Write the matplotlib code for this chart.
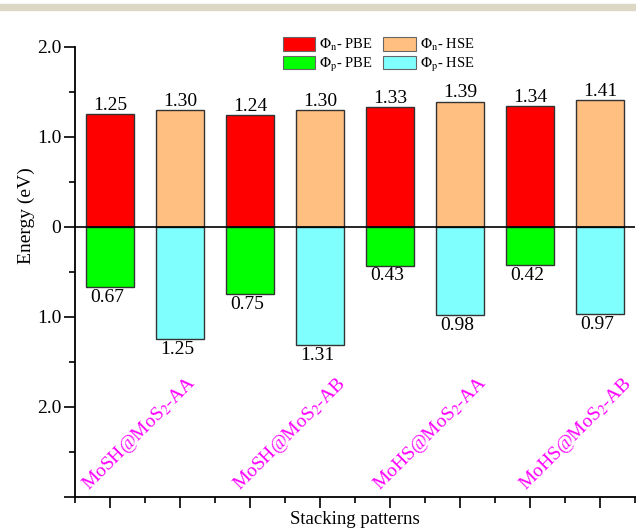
import numpy as np
import matplotlib
matplotlib.use("Agg")
import matplotlib.pyplot as plt
from matplotlib.patches import Patch, Rectangle
from matplotlib.ticker import MultipleLocator, FuncFormatter

plt.rcParams['font.family'] = ['Liberation Serif', 'DejaVu Serif']
plt.rcParams['mathtext.fontset'] = 'stix'

# ---- data ----
categories = ['MoSH@MoS$_2$-AA', 'MoSH@MoS$_2$-AB', 'MoHS@MoS$_2$-AA', 'MoHS@MoS$_2$-AB']
phi_n_pbe = [1.25, 1.24, 1.33, 1.34]
phi_n_hse = [1.30, 1.30, 1.39, 1.41]
phi_p_pbe = [0.67, 0.75, 0.43, 0.42]
phi_p_hse = [1.25, 1.31, 0.98, 0.97]
legend_labels = [r'$\Phi_{\rm n}$- PBE', r'$\Phi_{\rm p}$- PBE', r'$\Phi_{\rm n}$- HSE', r'$\Phi_{\rm p}$- HSE']

# ---- styles ----
c_n_pbe, c_p_pbe = '#ff0000', '#00ff00'
c_n_hse, c_p_hse = '#ffbf80', '#80ffff'
edge = '#333333'

fig = plt.figure(figsize=(6.36, 5.31), dpi=100)
fig.patches.append(Rectangle((0, 1 - 10/531), 1, 6/531, transform=fig.transFigure,
                             color='#ddd7c6', zorder=0))
ax = fig.add_axes([75/636, 34/531, 560/636, 450/531])

n = len(categories)
x_pbe = np.arange(n) * 2 + 1
x_hse = x_pbe + 1
w = 0.69

ax.bar(x_pbe, phi_n_pbe, width=w, color=c_n_pbe, edgecolor=edge, lw=1, zorder=2)
ax.bar(x_pbe, -np.array(phi_p_pbe), width=w, color=c_p_pbe, edgecolor=edge, lw=1, zorder=2)
ax.bar(x_hse, phi_n_hse, width=w, color=c_n_hse, edgecolor=edge, lw=1, zorder=2)
ax.bar(x_hse, -np.array(phi_p_hse), width=w, color=c_p_hse, edgecolor=edge, lw=1, zorder=2)

ax.axhline(0, color='black', lw=1.2, zorder=3)

fs_val = 14
for xs, vals in ((x_pbe, phi_n_pbe), (x_hse, phi_n_hse)):
    for xi, v in zip(xs, vals):
        ax.text(xi, v + 0.005, f'{v:.2f}', ha='center', va='bottom', fontsize=fs_val)
for xs, vals in ((x_pbe, phi_p_pbe), (x_hse, phi_p_hse)):
    for xi, v in zip(xs, vals):
        ax.text(xi - 0.04, -v - 0.02, f'{v:.2f}', ha='center', va='top', fontsize=fs_val)

# category labels (rotated, magenta)
label_x = [0.70, 2.86, 4.86, 6.94]
for lx, lab in zip(label_x, categories):
    ax.text(lx, -2.93, lab, rotation=45, rotation_mode='anchor', ha='left', va='baseline',
            color='#ff00ff', fontsize=14)

ax.set_xlim(0.5, 8.5)
ax.set_ylim(-3, 2)
ax.xaxis.set_major_locator(MultipleLocator(1))
ax.xaxis.set_minor_locator(MultipleLocator(0.5))
ax.yaxis.set_major_locator(MultipleLocator(1))
ax.yaxis.set_minor_locator(MultipleLocator(0.5))

def yfmt(v, pos):
    if abs(v) < 1e-9:
        return '0'
    if v < -2.5:
        return ''
    return f'{abs(v):.1f}'

ax.yaxis.set_major_formatter(FuncFormatter(yfmt))
ax.xaxis.set_major_formatter(FuncFormatter(lambda v, p: ''))

ax.tick_params(which='major', direction='out', length=8, width=1.2, labelsize=14, pad=2)
ax.tick_params(which='minor', direction='out', length=4, width=1.2)
ax.tick_params(top=False, right=False, which='both')
for s in ('top', 'right'):
    ax.spines[s].set_visible(False)
for s in ('left', 'bottom'):
    ax.spines[s].set_linewidth(1.3)

ax.set_xlabel('Stacking patterns', fontsize=13.5)
ax.xaxis.set_label_coords(0.5, -0.032)
ax.set_ylabel('Energy (eV)', fontsize=14)
ax.yaxis.set_label_coords(-0.072, 0.625)

handles = [Patch(facecolor=c, edgecolor='#666666', lw=0.8) for c in (c_n_pbe, c_p_pbe, c_n_hse, c_p_hse)]
fig.legend(handles, legend_labels, ncol=2, loc='upper left',
           bbox_to_anchor=(283/636, 1 - 37/531), frameon=False, borderpad=0, borderaxespad=0,
           handlelength=2.2, handleheight=1.0, labelspacing=0.2, handletextpad=0.3,
           columnspacing=0.7, fontsize=10.5)

fig.savefig('out.png', dpi=100)
